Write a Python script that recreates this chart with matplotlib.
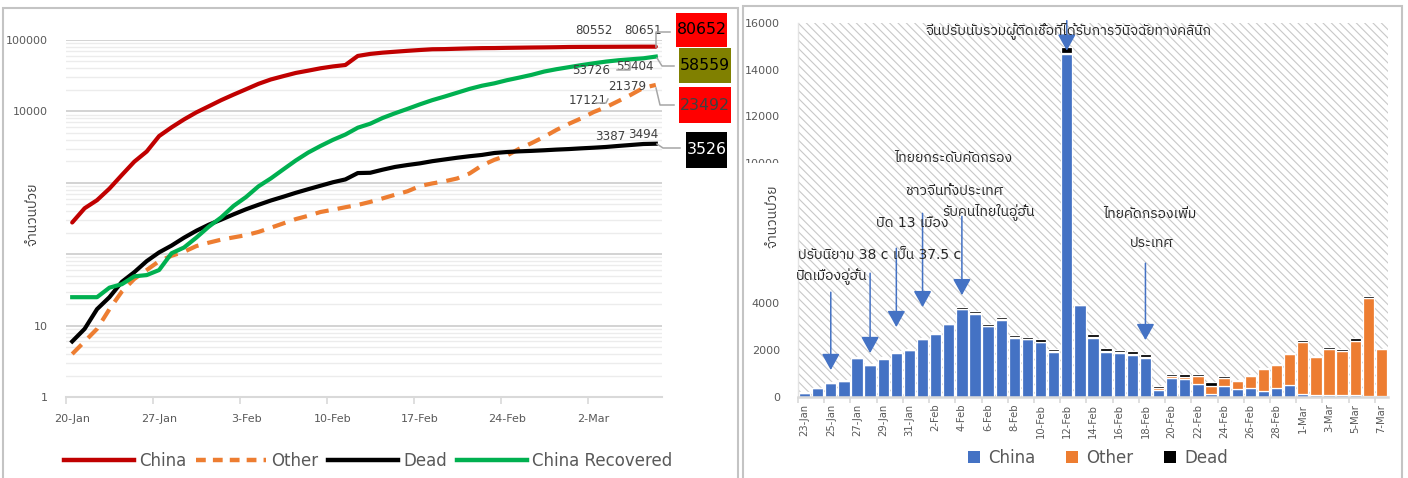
import numpy as np
import pandas as pd
import matplotlib
matplotlib.use("Agg")
import matplotlib.pyplot as plt
from matplotlib.patches import Rectangle, Patch
from matplotlib.lines import Line2D
import matplotlib.font_manager as fm
from matplotlib.ft2font import FT2Font

# ------------------------------------------------------------------ data
line_start = "2020-01-20"
line_end = "2020-03-07"
china_total = [278, 440, 571, 830, 1287, 1975, 2744, 4515, 5974, 7711, 9692, 11791,
               14380, 17205, 20438, 24324, 28018, 31161, 34546, 37198, 40171, 42638,
               44653, 59804, 63851, 66492, 68500, 70548, 72436, 74185, 74576, 75465,
               76288, 76936, 77150, 77658, 78064, 78497, 78824, 79251, 79824,
               80026, 80151, 80270, 80409, 80552, 80651, 80652]
other_total = [4, 6, 9, 17, 30, 45, 60, 80, 95, 108, 130, 145,
               160, 172, 185, 205, 235, 270, 310, 345, 390, 420, 455, 490, 540, 605,
               680, 760, 900, 980, 1050, 1150, 1350, 1750, 2100, 2400, 3000, 3600,
               4400, 5500, 6700,
               8000, 9800, 11500, 14000, 17121, 21379, 23492]
dead_total = [6, 9, 17, 25, 41, 56, 80, 106, 132, 170, 213, 259,
              305, 362, 426, 492, 565, 638, 724, 813, 910, 1018, 1115, 1369, 1382,
              1526, 1668, 1774, 1872, 2008, 2123, 2244, 2356, 2457, 2615, 2697, 2758,
              2800, 2854, 2917, 2968,
              3039, 3102, 3177, 3285, 3387, 3494, 3526]
recovered_total = [25, 25, 25, 34, 38, 49, 51, 60, 103, 124, 171, 243,
                   328, 475, 632, 892, 1153, 1540, 2050, 2649, 3281, 3996, 4740, 5911,
                   6723, 8096, 9419, 10844, 12552, 14376, 16155, 18264, 20659, 22888,
                   24734, 27323, 29745, 32495, 36117, 39002, 41625,
                   44462, 47204, 49856, 52045, 53726, 55404, 58559]
line_tick_labels = ["20-Jan", "27-Jan", "3-Feb", "10-Feb", "17-Feb", "24-Feb", "2-Mar"]
line_ytick_values = [1, 10, 100, 1000, 10000, 100000]
line_ytick_labels = ["1", "10", "", "", "10000", "100000"]   # 100 / 1000 hidden in source
line_labels = ["China", "Other", "Dead", "China Recovered"]

bar_start = "2020-01-23"
bar_end = "2020-03-07"
china_new = [170, 353, 593, 678, 1653, 1342, 1625, 1879, 1992,
             2459, 2699, 3094, 3744, 3561, 3010, 3264, 2529, 2459, 2346, 1922, 14690,
             3914, 2530, 1922, 1865, 1795, 1640, 297, 820, 750, 565, 127, 438, 311,
             367, 226, 353, 480,
             127, 57, 57, 71, 71, 28, 20]
other_new = [6, 13, 14, 14, 12, 12, 18, 20, 15,
             15, 7, 6, 32, 25, 9, 45, 18, 19, 12, 30, 46, 6, 20, 21, 40, 50, 40, 60,
             50, 100, 310, 340, 353, 340, 537, 947, 1003, 1342,
             2232, 1639, 1978, 1879, 2317, 4182, 2006]
dead_new = [8, 16, 15, 24, 26, 26, 38, 43, 46,
            45, 57, 64, 66, 73, 73, 86, 89, 97, 108, 97, 254, 13, 143, 143, 105, 98,
            139, 115, 121, 112, 103, 160, 81, 64, 37, 58, 64, 55,
            70, 66, 75, 94, 104, 107, 32]
bar_tick_labels = ["23-Jan", "25-Jan", "27-Jan", "29-Jan", "31-Jan", "2-Feb", "4-Feb",
                   "6-Feb", "8-Feb", "10-Feb", "12-Feb", "14-Feb", "16-Feb", "18-Feb",
                   "20-Feb", "22-Feb", "24-Feb", "26-Feb", "28-Feb", "1-Mar", "3-Mar",
                   "5-Mar", "7-Mar"]
bar_ytick_values = [0, 2000, 4000, 6000, 8000, 10000, 12000, 14000, 16000]
bar_ytick_labels = ["0", "2000", "4000", "", "", "10000", "12000", "14000", "16000"]
bar_labels = ["China", "Other", "Dead"]

y_label = "จำนวนป่วย"
# (bar index, arrow tail value, arrow tip value)
events_idx = [2, 5, 7, 9, 12, 20, 26]
events_tail = [4474, 5287, 6355, 7850, 7722, 16100, 5714]
events_tip = [1141, 1868, 2979, 3833, 4346, 14816, 2423]
event_texts = ["ปิดเมืองอู่ฮั่น", "ปรับนิยาม 38 c เป็น 37.5 c", "ปิด 13 เมือง",
               "ไทยยกระดับคัดกรอง", "ชาวจีนทั้งประเทศ", "รับคนไทยในอู่ฮั่น",
               "จีนปรับนับรวมผู้ติดเชื้อที่ได้รับการวินิจฉัยทางคลินิก",
               "ไทยคัดกรองเพิ่ม", "ประเทศ"]

# ------------------------------------------------------------------ fonts
def find_thai_font():
    best = None
    for p in fm.findSystemFonts(fontext="ttf") + fm.findSystemFonts(fontext="otf"):
        try:
            cmap = FT2Font(p).get_charmap()
        except Exception:
            continue
        if 0x0E01 in cmap and 0x0E48 in cmap:
            low = p.lower()
            score = 0
            if "bold" in low or "italic" in low or "oblique" in low:
                score += 10
            if "mono" in low or "serif" in low and "sans" not in low:
                score += 5
            if "sans" in low or "loma" in low or "garuda" in low:
                score -= 2
            if best is None or score < best[0]:
                best = (score, p)
    if best is None:
        return None
    fm.fontManager.addfont(best[1])
    return fm.FontProperties(fname=best[1]).get_name()

thai = find_thai_font()
FAM = ["DejaVu Sans"] + ([thai] if thai else [])
plt.rcParams["font.family"] = FAM
plt.rcParams["hatch.linewidth"] = 0.8

W, H = 1408, 478
fig = plt.figure(figsize=(W / 100, H / 100), dpi=100)
fig.patch.set_facecolor("white")

def fx(px):
    return px / W

def fy(py):
    return 1 - py / H

GRAY_TXT = "#595959"
AX_GRAY = "#d9d9d9"

# ------------------------------------------------------------------ left chart
ax1 = fig.add_axes([fx(66), fy(397), 596 / W, 357 / H])
xd = np.arange(len(pd.date_range(line_start, line_end)))
ax1.plot(xd, china_total, color="#C00000", lw=3.0, solid_capstyle="round", zorder=5)
ax1.plot(xd, other_total, color="#ED7D31", lw=3.0, ls=(0, (3.2, 2.2)), zorder=4)
ax1.plot(xd, dead_total, color="black", lw=3.0, zorder=4)
ax1.plot(xd, recovered_total, color="#00B050", lw=3.0, zorder=4)
ax1.set_yscale("log")
ax1.set_ylim(1, 100000)
ax1.set_xlim(-0.5, len(xd) - 0.5)
ax1.set_yticks(line_ytick_values)
ax1.set_yticklabels(line_ytick_labels)
ax1.yaxis.set_minor_locator(matplotlib.ticker.LogLocator(base=10, subs=np.arange(2, 10)))
ax1.yaxis.set_minor_formatter(matplotlib.ticker.NullFormatter())
ax1.grid(True, which="major", axis="y", color="#d0d0d0", lw=1.3)
ax1.grid(True, which="minor", axis="y", color="#ececec", lw=1.0)
ax1.set_axisbelow(True)
ax1.set_xticks(np.arange(0, len(xd), 7))
ax1.set_xticklabels(line_tick_labels)
ax1.set_xticks(np.arange(0, len(xd), 7) - 0.5, minor=True)
ax1.tick_params(axis="x", which="major", length=0, pad=12, labelsize=8, labelcolor=GRAY_TXT)
ax1.tick_params(axis="x", which="minor", length=5, width=1.2, color=AX_GRAY)
ax1.tick_params(axis="y", which="both", length=0, pad=13, labelsize=8, labelcolor=GRAY_TXT)
for s in ["top", "right", "left"]:
    ax1.spines[s].set_visible(False)
ax1.spines["bottom"].set_color(AX_GRAY)
ax1.spines["bottom"].set_linewidth(1.5)

# data labels on the last points
for txt, (px, py) in zip(["80552", "80651", "53726", "55404", "21379", "17121", "3387", "3494"],
                         [(594, 30), (643, 30), (591, 71), (635, 66), (627, 86),
                          (588, 101), (610, 137), (643, 134)]):
    fig.text(fx(px), fy(py), txt, ha="center", va="center", fontsize=8.6, color="#404040")

# callout boxes for the latest value
for txt, (x0, y0, x1, y1), fc, tc in [("80652", (676, 13, 727, 47), "#FF0000", "black"),
                                      ("58559", (679, 48, 731, 83), "#808000", "black"),
                                      ("23492", (679, 87, 731, 123), "#FF0000", "#404040"),
                                      ("3526", (686, 132, 727, 168), "black", "white")]:
    fig.add_artist(Rectangle((fx(x0), fy(y1)), (x1 - x0) / W, (y1 - y0) / H,
                             transform=fig.transFigure, facecolor=fc, edgecolor="none", zorder=6))
    fig.text(fx((x0 + x1) / 2), fy((y0 + y1) / 2), txt, ha="center", va="center",
             fontsize=11.3, color=tc, zorder=7)

for pts in [[(656, 47), (656, 32), (670, 32)],
            [(657, 58), (662, 66), (674, 66)],
            [(656, 88), (660, 105), (674, 105)],
            [(657, 144), (663, 148), (680, 148)],
            [(617, 70), (630, 70), (630, 63)],
            [(596, 103), (606, 103), (608, 99)]]:
    fig.add_artist(Line2D([fx(p[0]) for p in pts], [fy(p[1]) for p in pts],
                          transform=fig.transFigure, color="#a6a6a6", lw=1.1, zorder=6))

# legend left
h1 = [Line2D([], [], color="#C00000", lw=3.2),
      Line2D([], [], color="#ED7D31", lw=3.2, ls=(0, (2.2, 1.6))),
      Line2D([], [], color="black", lw=3.2),
      Line2D([], [], color="#00B050", lw=3.2)]
fig.legend(h1, line_labels, loc="center", bbox_to_anchor=(fx(368), fy(461)), ncol=4,
           frameon=False, fontsize=12, handlelength=4.2, handletextpad=0.3,
           columnspacing=0.6, labelcolor=GRAY_TXT)

# ------------------------------------------------------------------ right chart
ax2 = fig.add_axes([fx(798), fy(396.7), 590 / W, 373.7 / H])
xb = np.arange(len(pd.date_range(bar_start, bar_end)))
ax2.add_patch(Rectangle((0, 0), 1, 1, transform=ax2.transAxes, facecolor="white",
                        edgecolor="#c8c8c8", hatch="\\\\\\\\", lw=0, zorder=0))
cn = np.array(china_new)
on = np.array(other_new)
dn = np.array(dead_new)
bw = 0.86
ax2.bar(xb, cn, width=bw, color="#4472C4", edgecolor="white", lw=0.9, zorder=2)
ax2.bar(xb, on, width=bw, bottom=cn, color="#ED7D31", edgecolor="white", lw=0.9, zorder=2)
ax2.bar(xb, dn, width=bw, bottom=cn + on, color="black", edgecolor="white", lw=0.9, zorder=2)
ax2.set_xlim(-0.5, len(xb) - 0.5)
ax2.set_ylim(0, 16000)
ax2.set_yticks(bar_ytick_values)
ax2.set_yticklabels(bar_ytick_labels)
ax2.set_xticks(xb[::2])
ax2.set_xticklabels(bar_tick_labels, rotation=90)
ax2.set_xticks(xb[::2] - 0.5, minor=True)
ax2.tick_params(axis="x", which="major", length=0, pad=5, labelsize=7.2, labelcolor=GRAY_TXT)
ax2.tick_params(axis="x", which="minor", length=4, width=1.2, color=AX_GRAY)
ax2.tick_params(axis="y", length=0, pad=13, labelsize=8, labelcolor=GRAY_TXT)
for s in ["top", "right"]:
    ax2.spines[s].set_visible(False)
ax2.spines["left"].set_color("#e3e3e3")
ax2.spines["left"].set_linewidth(1.0)
ax2.spines["bottom"].set_color(AX_GRAY)
ax2.spines["bottom"].set_linewidth(1.8)

ARROW_C = "#4472C4"
for i, tail, tip in zip(events_idx, events_tail, events_tip):
    ax2.annotate("", xy=(i, tip), xytext=(i, tail),
                 arrowprops=dict(arrowstyle="-|>,head_length=1.0,head_width=0.55",
                                 color=ARROW_C, lw=1.1, shrinkA=0, shrinkB=0),
                 zorder=4)

txt_pos = [(832, 277), (880, 255), (912, 223), (953, 158), (954, 191), (989, 212),
           (1069, 31), (1150, 214), (1152, 243)]
for t, (px, py) in zip(event_texts, txt_pos):
    fig.text(fx(px), fy(py), t, ha="center", va="center", fontsize=10, color="#262626",
             zorder=5)

# legend right
h2 = [Patch(facecolor="#4472C4"), Patch(facecolor="#ED7D31"), Patch(facecolor="black")]
fig.legend(h2, bar_labels, loc="center", bbox_to_anchor=(fx(1098), fy(458)), ncol=3,
           frameon=False, fontsize=12, handlelength=0.75, handleheight=0.75,
           handletextpad=0.5, columnspacing=1.8, labelcolor=GRAY_TXT)

# y labels; the right one sits on a white box that cuts the 10000 label in half
fig.add_artist(Rectangle((fx(745), fy(267)), (796 - 745) / W, (267 - 163) / H,
                         transform=fig.transFigure, facecolor="white",
                         edgecolor="none", zorder=3))
for cx, cy in [(33, 214), (773, 216)]:
    fig.text(fx(cx), fy(cy), y_label, rotation=90, ha="center", va="center",
             fontsize=10, color="#404040", zorder=4)

# panel borders
for (x0, y0, x1, y1) in [(3, 8, 738, 482), (743, 6, 1402, 482)]:
    fig.add_artist(Rectangle((fx(x0), fy(y1)), (x1 - x0) / W, (y1 - y0) / H,
                             transform=fig.transFigure, facecolor="none",
                             edgecolor="#c4c4c4", lw=1.5, zorder=10, clip_on=False))

fig.savefig("out.png", dpi=100, facecolor="white")
